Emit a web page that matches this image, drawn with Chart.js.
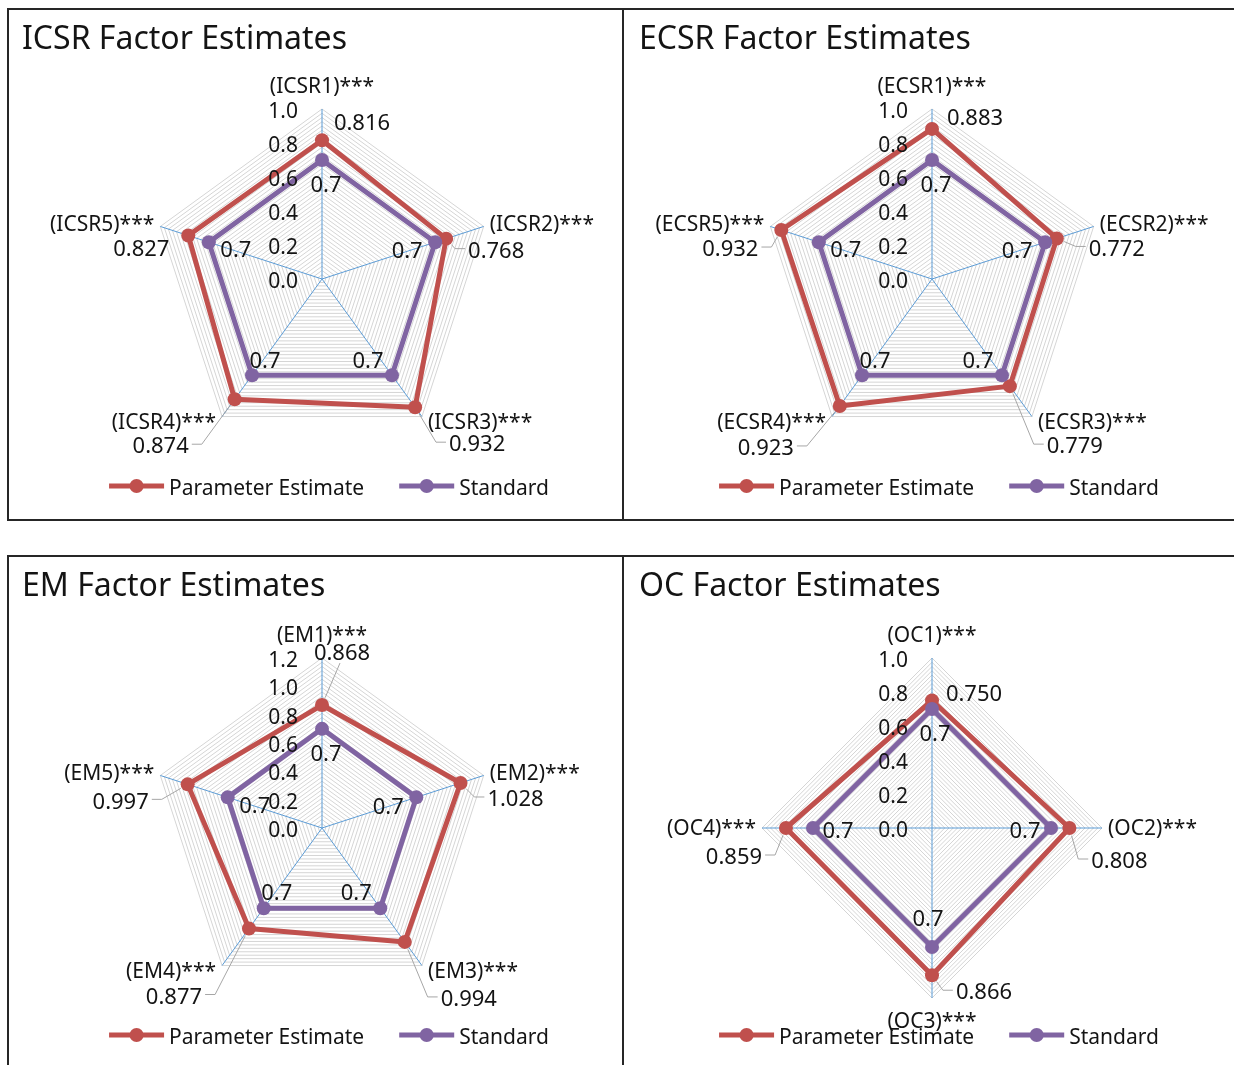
<!DOCTYPE html>
<html>
<head>
<meta charset="utf-8">
<title>Factor Estimates</title>
<script src="https://cdn.jsdelivr.net/npm/chart.js@4.4.0/dist/chart.umd.min.js"></script>
<style>
  html, body { margin: 0; padding: 0; background: #fff; }
  body { width: 1234px; height: 1065px; position: relative; overflow: hidden; }
  .panel { position: absolute; }
  .panel canvas { position: absolute; left: 0; top: 0; }
  .frame { position: absolute; left: 0; top: 0; right: 0; bottom: 0; box-sizing: border-box;
           border: 2px solid #262626; pointer-events: none; }
  .noleft { border-left: none; }
</style>
</head>
<body>
<div class="panel" style="left:7px;top:8px;width:617px;height:513px">
  <canvas id="cIcsr" width="617" height="513"></canvas><div class="frame"></div>
</div>
<div class="panel" style="left:624px;top:8px;width:613px;height:513px">
  <canvas id="cEcsr" width="613" height="513"></canvas><div class="frame noleft"></div>
</div>
<div class="panel" style="left:7px;top:555px;width:617px;height:513px">
  <canvas id="cEm" width="617" height="513"></canvas><div class="frame"></div>
</div>
<div class="panel" style="left:624px;top:555px;width:613px;height:513px">
  <canvas id="cOc" width="613" height="513"></canvas><div class="frame noleft"></div>
</div>

<script>
// ---------------- data ----------------
const seriesNames = ['Parameter Estimate', 'Standard'];

const icsrItems    = ['(ICSR1)***', '(ICSR2)***', '(ICSR3)***', '(ICSR4)***', '(ICSR5)***'];
const icsrEstimate = [0.816, 0.768, 0.932, 0.874, 0.827];
const icsrStandard = [0.7, 0.7, 0.7, 0.7, 0.7];

const ecsrItems    = ['(ECSR1)***', '(ECSR2)***', '(ECSR3)***', '(ECSR4)***', '(ECSR5)***'];
const ecsrEstimate = [0.883, 0.772, 0.779, 0.923, 0.932];
const ecsrStandard = [0.7, 0.7, 0.7, 0.7, 0.7];

const emItems    = ['(EM1)***', '(EM2)***', '(EM3)***', '(EM4)***', '(EM5)***'];
const emEstimate = [0.868, 1.028, 0.994, 0.877, 0.997];
const emStandard = [0.7, 0.7, 0.7, 0.7, 0.7];

const ocItems    = ['(OC1)***', '(OC2)***', '(OC3)***', '(OC4)***'];
const ocEstimate = [0.750, 0.808, 0.866, 0.859];
const ocStandard = [0.7, 0.7, 0.7, 0.7];

const ticksTo10 = [0, 0.2, 0.4, 0.6, 0.8, 1.0];
const ticksTo12 = [0, 0.2, 0.4, 0.6, 0.8, 1.0, 1.2];

// ---------------- styling ----------------
const RED = '#C0504D';
const PURPLE = '#8064A2';
const SPOKE = '#5B9BD5';
const RING = '#d5d5d5';
const INK = '#141414';
const LEADER = '#a6a6a6';
const FONT = '"Noto Sans", "Open Sans", sans-serif';
const RADIUS = 170;

// label centre offsets from each marker (px)
const estimateOffsets = {
  icsr: [[40, -20], [50, 10], [62, 35], [-74, 45], [-47, 11]],
  ecsr: [[43, -13], [60, 8], [65, 58], [-74, 40], [-51, 17]],
  em:   [[20, -54], [55, 14], [64, 55], [-75, 66], [-67, 15]],
  oc:   [[42, -9], [50, 31], [52, 15], [-52, 27]]
};
const estimateLeaders = {
  icsr: [0, 1, 1, 1, 0],
  ecsr: [0, 1, 1, 1, 1],
  em:   [1, 1, 1, 1, 1],
  oc:   [0, 1, 1, 1]
};
const standardOffsets = {
  5: [[4, 23], [-28, 7], [-24, -17], [13, -17], [27, 6]],
  4: [[3, 23], [-26, 1], [-4, -30], [25, 1]]
};

// vertical nudge so the text's visual centre sits on the anchor
const TEXT_DY = 3;

function textPlugin(cfg) {
  return {
    id: 'panelText',
    afterDatasetsDraw(chart) {
      const ctx = chart.ctx;
      const r = chart.scales.r;
      ctx.save();
      ctx.fillStyle = INK;

      // title
      ctx.font = '32px ' + FONT;
      ctx.textAlign = 'left';
      ctx.textBaseline = 'middle';
      ctx.fillText(cfg.title, 15, 32);

      // value axis labels, left of the vertical spoke
      ctx.font = '21px ' + FONT;
      ctx.textAlign = 'right';
      cfg.ticks.forEach(v => {
        const p = r.getPointPositionForValue(0, v);
        ctx.fillText(v.toFixed(1), r.xCenter - 24, p.y + TEXT_DY);
      });

      // category labels at the spoke ends
      chart.data.labels.forEach((lab, i) => {
        const e = r.getPointPosition(i, r.drawingArea);
        const dx = e.x - r.xCenter, dy = e.y - r.yCenter;
        let x, y;
        if (Math.abs(dx) < 1) {
          ctx.textAlign = 'center';
          x = e.x;
          y = dy < 0 ? e.y - 25 : e.y + 21;
        } else {
          ctx.textAlign = dx > 0 ? 'left' : 'right';
          x = e.x + (dx > 0 ? 6 : -6);
          y = e.y + (dy < -1 ? -4 : (dy > 1 ? 3 : -2));
        }
        ctx.fillText(lab, x, y + TEXT_DY);
      });

      // data labels
      ctx.font = '22px ' + FONT;
      ctx.textAlign = 'center';
      const n = chart.data.labels.length;
      chart.data.datasets.forEach((ds, d) => {
        const meta = chart.getDatasetMeta(d);
        meta.data.forEach((pt, i) => {
          const v = ds.data[i];
          let txt, off, lead = 0;
          if (d === 0) {
            txt = v.toFixed(3);
            off = estimateOffsets[cfg.key][i];
            lead = estimateLeaders[cfg.key][i];
          } else {
            txt = String(v);
            off = standardOffsets[n][i];
          }
          const cx = pt.x + off[0], cy = pt.y + off[1];
          if (lead) {
            const w = ctx.measureText(txt).width;
            let ax, ay, bx, by;
            if (Math.abs(cx - pt.x) > w / 2 + 2) {
              const side = cx > pt.x ? -1 : 1;
              ax = cx + side * (w / 2 + 3); ay = cy;
              bx = ax + side * 10; by = cy;
            } else {
              ax = cx - 2; ay = cy + (pt.y > cy ? 12 : -12);
              bx = ax; by = ay;
            }
            const ddx = bx - pt.x, ddy = by - pt.y;
            const L = Math.hypot(ddx, ddy) || 1;
            const sx = pt.x + ddx / L * 8, sy = pt.y + ddy / L * 8;
            ctx.beginPath();
            ctx.moveTo(ax, ay);
            ctx.lineTo(bx, by);
            ctx.lineTo(sx, sy);
            ctx.strokeStyle = LEADER;
            ctx.lineWidth = 1;
            ctx.stroke();
          }
          ctx.fillStyle = INK;
          ctx.fillText(txt, cx, cy + TEXT_DY);
        });
      });

      // legend
      ctx.font = '21px ' + FONT;
      ctx.textAlign = 'left';
      const lineLen = 55, textGap = 5, itemGap = 35;
      const widths = seriesNames.map(s => ctx.measureText(s).width);
      const total = widths.reduce((a, w) => a + lineLen + textGap + w, 0) + itemGap * (seriesNames.length - 1);
      let x = r.xCenter + 7 - total / 2;
      const y = r.yCenter + 207;
      seriesNames.forEach((name, k) => {
        const col = chart.data.datasets[k].borderColor;
        ctx.strokeStyle = col;
        ctx.lineWidth = 5;
        ctx.beginPath();
        ctx.moveTo(x, y);
        ctx.lineTo(x + lineLen, y);
        ctx.stroke();
        ctx.fillStyle = col;
        ctx.beginPath();
        ctx.arc(x + lineLen / 2, y, 7, 0, Math.PI * 2);
        ctx.fill();
        ctx.fillStyle = INK;
        ctx.fillText(name, x + lineLen + textGap, y + TEXT_DY);
        x += lineLen + textGap + widths[k] + itemGap;
      });
      ctx.restore();
    }
  };
}

function makeRadar(canvasId, cfg) {
  const canvas = document.getElementById(canvasId);
  const W = canvas.width, H = canvas.height;
  const ringStep = cfg.max / 40;
  return new Chart(canvas, {
    type: 'radar',
    data: {
      labels: cfg.items,
      datasets: [
        { label: seriesNames[0], data: cfg.estimate, order: 1,
          borderColor: RED, backgroundColor: RED, pointBackgroundColor: RED },
        { label: seriesNames[1], data: cfg.standard, order: 0,
          borderColor: PURPLE, backgroundColor: PURPLE, pointBackgroundColor: PURPLE }
      ]
    },
    options: {
      responsive: false,
      animation: false,
      devicePixelRatio: 1,
      events: [],
      layout: {
        padding: {
          left: cfg.cx - RADIUS, right: W - cfg.cx - RADIUS,
          top: cfg.cy - RADIUS, bottom: H - cfg.cy - RADIUS
        }
      },
      elements: {
        line: { borderWidth: 5, fill: false, borderJoinStyle: 'round', tension: 0 },
        point: { radius: 7, borderWidth: 0, hoverRadius: 7 }
      },
      scales: {
        r: {
          min: 0,
          max: cfg.max,
          startAngle: 0,
          ticks: { display: false },
          afterBuildTicks: (scale) => {
            const t = [];
            for (let k = 0; k <= 40; k++) t.push({ value: +(k * ringStep).toFixed(5) });
            scale.ticks = t;
          },
          grid: { color: RING, lineWidth: 1 },
          angleLines: { color: SPOKE, lineWidth: 1 },
          pointLabels: { display: false }
        }
      },
      plugins: {
        legend: { display: false },
        title: { display: false },
        tooltip: { enabled: false }
      }
    },
    plugins: [textPlugin(cfg)]
  });
}

function build() {
  makeRadar('cIcsr', { key: 'icsr', title: 'ICSR Factor Estimates', items: icsrItems,
    estimate: icsrEstimate, standard: icsrStandard, max: 1.0, ticks: ticksTo10, cx: 315, cy: 271 });
  makeRadar('cEcsr', { key: 'ecsr', title: 'ECSR Factor Estimates', items: ecsrItems,
    estimate: ecsrEstimate, standard: ecsrStandard, max: 1.0, ticks: ticksTo10, cx: 308, cy: 271 });
  makeRadar('cEm', { key: 'em', title: 'EM Factor Estimates', items: emItems,
    estimate: emEstimate, standard: emStandard, max: 1.2, ticks: ticksTo12, cx: 315, cy: 273 });
  makeRadar('cOc', { key: 'oc', title: 'OC Factor Estimates', items: ocItems,
    estimate: ocEstimate, standard: ocStandard, max: 1.0, ticks: ticksTo10, cx: 308, cy: 273 });
}

if (document.fonts && document.fonts.load) {
  Promise.all([document.fonts.load('21px "Noto Sans"'), document.fonts.load('32px "Noto Sans"')])
    .then(build, build);
} else {
  build();
}
</script>
</body>
</html>
